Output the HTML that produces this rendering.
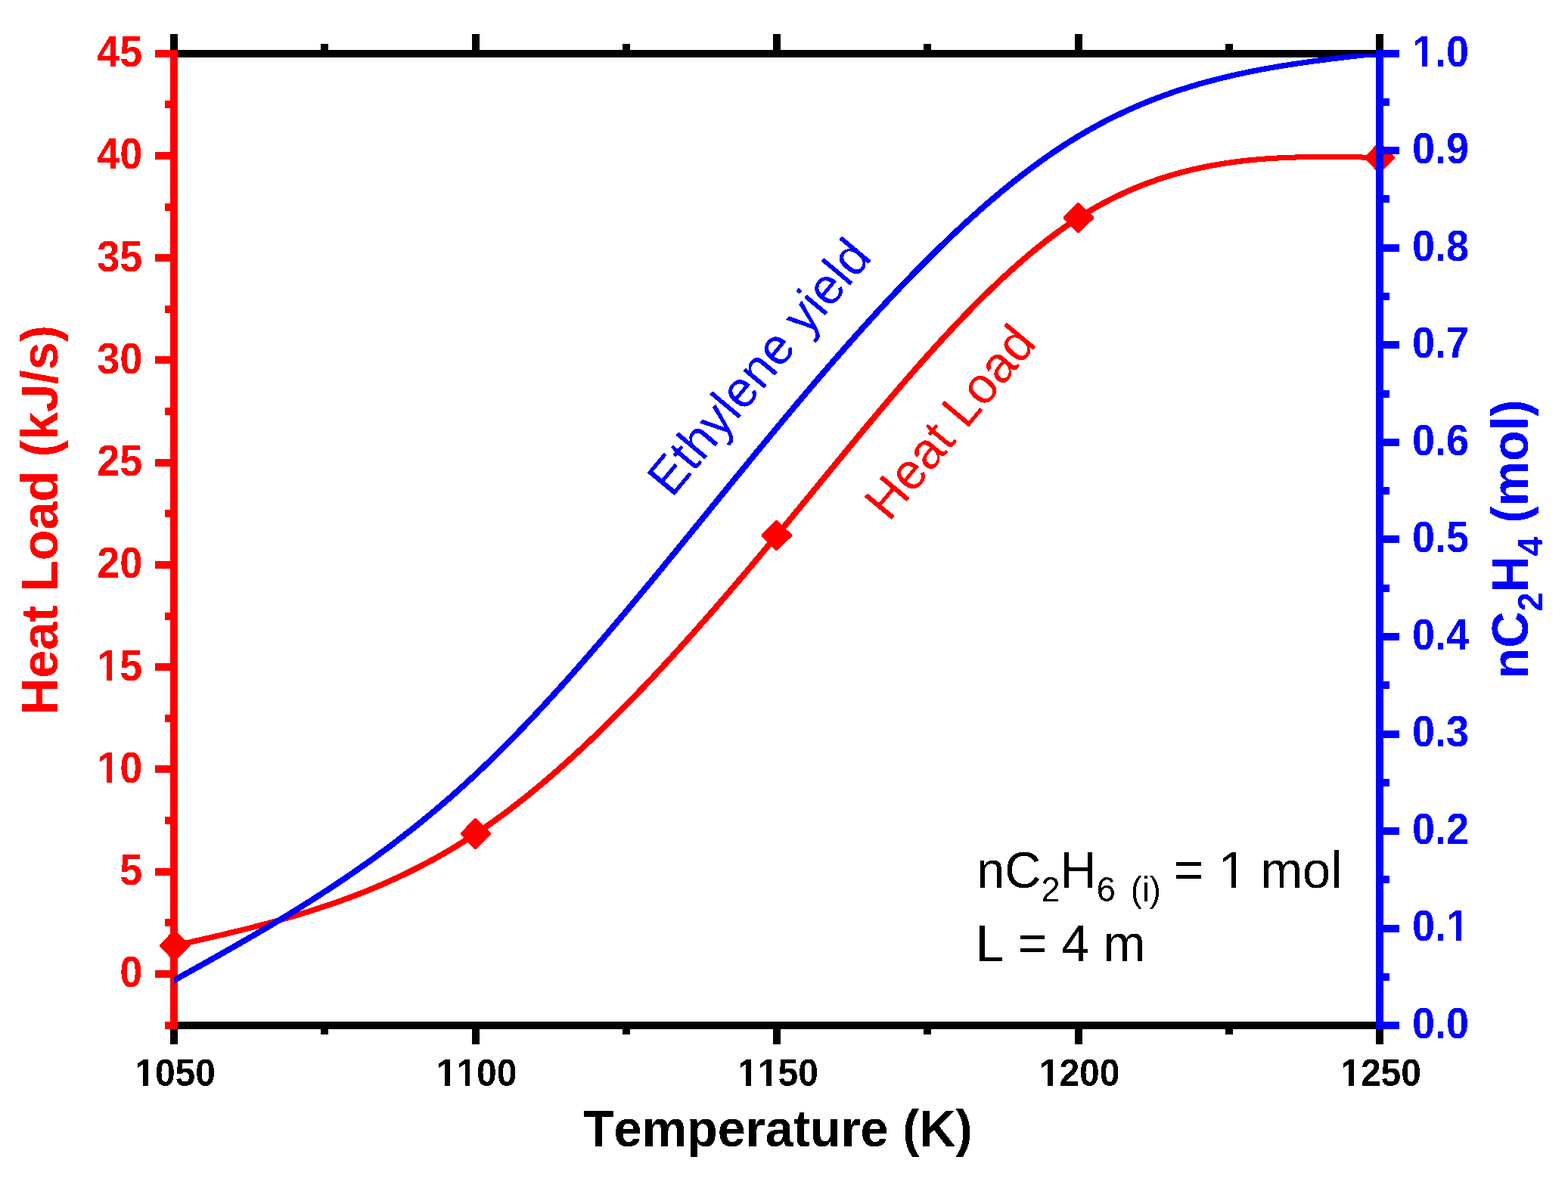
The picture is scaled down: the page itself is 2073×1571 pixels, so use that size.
<!DOCTYPE html>
<html lang="en">
<head>
<meta charset="utf-8">
<title>Heat load and ethylene yield vs temperature</title>
<style>
html,body{margin:0;padding:0;background:#fff;}
body{width:2073px;height:1571px;overflow:hidden;}
svg{display:block;}
text{font-family:"Liberation Sans",sans-serif;font-kerning:none;white-space:pre;}
</style>
</head>
<body>
<svg width="2073" height="1571" viewBox="0 0 2073 1571">
<rect width="2073" height="1571" fill="#ffffff"/>
<defs>
<filter id="na" x="-10%" y="-10%" width="120%" height="120%" color-interpolation-filters="sRGB"><feComponentTransfer><feFuncA type="discrete" tableValues="0 1"/></feComponentTransfer></filter>
<clipPath id="fr"><rect x="230.0" y="71.0" width="1594.0" height="1285.0"/></clipPath>
</defs>
<g id="axes-layer1" shape-rendering="crispEdges">
<rect x="225" y="66" width="1604" height="10" fill="#000000"/>
<rect x="225" y="1351" width="1604" height="10" fill="#000000"/>
<rect x="225" y="45" width="10" height="21" fill="#000000"/>
<rect x="225" y="1361" width="10" height="20" fill="#000000"/>
<rect x="424" y="58" width="10" height="8" fill="#000000"/>
<rect x="424" y="1361" width="10" height="7" fill="#000000"/>
<rect x="624" y="45" width="10" height="21" fill="#000000"/>
<rect x="624" y="1361" width="10" height="20" fill="#000000"/>
<rect x="823" y="58" width="10" height="8" fill="#000000"/>
<rect x="823" y="1361" width="10" height="7" fill="#000000"/>
<rect x="1022" y="45" width="10" height="21" fill="#000000"/>
<rect x="1022" y="1361" width="10" height="20" fill="#000000"/>
<rect x="1221" y="58" width="10" height="8" fill="#000000"/>
<rect x="1221" y="1361" width="10" height="7" fill="#000000"/>
<rect x="1421" y="45" width="10" height="21" fill="#000000"/>
<rect x="1421" y="1361" width="10" height="20" fill="#000000"/>
<rect x="1620" y="58" width="10" height="8" fill="#000000"/>
<rect x="1620" y="1361" width="10" height="7" fill="#000000"/>
<rect x="1819" y="45" width="10" height="21" fill="#000000"/>
<rect x="1819" y="1361" width="10" height="20" fill="#000000"/>
<rect x="225" y="66" width="10" height="1295" fill="#ff0000"/>
<rect x="205" y="66" width="20" height="10" fill="#ff0000"/>
<rect x="218" y="133" width="7" height="10" fill="#ff0000"/>
<rect x="205" y="201" width="20" height="10" fill="#ff0000"/>
<rect x="218" y="269" width="7" height="10" fill="#ff0000"/>
<rect x="205" y="336" width="20" height="10" fill="#ff0000"/>
<rect x="218" y="404" width="7" height="10" fill="#ff0000"/>
<rect x="205" y="471" width="20" height="10" fill="#ff0000"/>
<rect x="218" y="539" width="7" height="10" fill="#ff0000"/>
<rect x="205" y="607" width="20" height="10" fill="#ff0000"/>
<rect x="218" y="674" width="7" height="10" fill="#ff0000"/>
<rect x="205" y="742" width="20" height="10" fill="#ff0000"/>
<rect x="218" y="810" width="7" height="10" fill="#ff0000"/>
<rect x="205" y="877" width="20" height="10" fill="#ff0000"/>
<rect x="218" y="945" width="7" height="10" fill="#ff0000"/>
<rect x="205" y="1012" width="20" height="10" fill="#ff0000"/>
<rect x="218" y="1080" width="7" height="10" fill="#ff0000"/>
<rect x="205" y="1148" width="20" height="10" fill="#ff0000"/>
<rect x="218" y="1215" width="7" height="10" fill="#ff0000"/>
<rect x="205" y="1283" width="20" height="10" fill="#ff0000"/>
<rect x="218" y="1351" width="7" height="10" fill="#ff0000"/>
</g>
<g id="heat-load" shape-rendering="crispEdges">
<path d="M228.82,1254.80 L232.02,1254.08 L235.23,1253.35 L238.43,1252.63 L241.64,1251.91 L244.84,1251.18 L248.05,1250.46 L251.25,1249.73 L254.46,1249.01 L257.66,1248.28 L260.87,1247.55 L264.08,1246.82 L267.28,1246.08 L270.49,1245.35 L273.70,1244.61 L276.90,1243.87 L280.11,1243.13 L283.32,1242.39 L286.53,1241.64 L289.73,1240.89 L292.94,1240.13 L296.15,1239.37 L299.36,1238.61 L302.57,1237.85 L305.78,1237.08 L308.99,1236.31 L312.20,1235.53 L315.41,1234.74 L318.62,1233.96 L321.83,1233.17 L325.04,1232.37 L328.25,1231.57 L331.46,1230.76 L334.67,1229.94 L337.88,1229.12 L341.09,1228.30 L344.30,1227.47 L347.51,1226.63 L350.73,1225.78 L353.94,1224.93 L357.15,1224.07 L360.36,1223.21 L363.58,1222.33 L366.79,1221.45 L370.00,1220.56 L373.22,1219.67 L376.43,1218.76 L379.64,1217.85 L382.86,1216.93 L386.07,1216.00 L389.28,1215.06 L392.50,1214.11 L395.71,1213.16 L398.93,1212.19 L402.14,1211.22 L405.36,1210.23 L408.57,1209.24 L411.79,1208.23 L415.00,1207.21 L418.22,1206.19 L421.44,1205.15 L424.65,1204.10 L427.87,1203.05 L431.09,1201.98 L434.30,1200.89 L437.52,1199.80 L440.74,1198.70 L443.95,1197.58 L447.17,1196.45 L450.39,1195.31 L453.61,1194.16 L456.82,1192.99 L460.04,1191.81 L463.26,1190.62 L466.48,1189.42 L469.70,1188.20 L472.92,1186.97 L476.13,1185.72 L479.35,1184.46 L482.57,1183.19 L485.79,1181.90 L489.01,1180.59 L492.23,1179.28 L495.45,1177.94 L498.67,1176.60 L501.89,1175.23 L505.11,1173.86 L508.33,1172.46 L511.55,1171.05 L514.77,1169.63 L517.99,1168.18 L521.21,1166.73 L524.43,1165.25 L527.65,1163.76 L530.87,1162.25 L534.09,1160.73 L537.31,1159.18 L540.54,1157.62 L543.76,1156.04 L546.98,1154.45 L550.20,1152.83 L553.42,1151.20 L556.64,1149.55 L559.86,1147.88 L563.08,1146.20 L566.31,1144.49 L569.53,1142.76 L572.75,1141.02 L575.97,1139.25 L579.19,1137.47 L582.41,1135.67 L585.64,1133.84 L588.86,1132.00 L592.08,1130.13 L595.30,1128.25 L598.52,1126.34 L601.74,1124.41 L604.97,1122.47 L608.19,1120.50 L611.41,1118.51 L614.63,1116.49 L617.85,1114.46 L621.08,1112.40 L624.30,1110.32 L627.52,1108.22 L630.74,1106.10 L633.96,1103.95 L637.18,1101.78 L640.40,1099.59 L643.63,1097.38 L646.85,1095.14 L650.07,1092.89 L653.29,1090.61 L656.51,1088.31 L659.72,1085.98 L662.94,1083.64 L666.16,1081.27 L669.38,1078.89 L672.60,1076.48 L675.82,1074.05 L679.04,1071.60 L682.25,1069.13 L685.47,1066.64 L688.69,1064.13 L691.91,1061.60 L695.12,1059.05 L698.34,1056.48 L701.56,1053.90 L704.77,1051.29 L707.99,1048.66 L711.20,1046.01 L714.42,1043.34 L717.64,1040.66 L720.85,1037.95 L724.07,1035.23 L727.28,1032.49 L730.50,1029.73 L733.71,1026.95 L736.92,1024.15 L740.14,1021.34 L743.35,1018.50 L746.57,1015.65 L749.78,1012.79 L752.99,1009.90 L756.21,1007.00 L759.42,1004.08 L762.63,1001.14 L765.85,998.19 L769.06,995.22 L772.27,992.23 L775.48,989.23 L778.70,986.21 L781.91,983.17 L785.12,980.12 L788.33,977.05 L791.55,973.97 L794.76,970.87 L797.97,967.76 L801.18,964.63 L804.39,961.48 L807.60,958.32 L810.81,955.14 L814.02,951.95 L817.24,948.75 L820.45,945.53 L823.66,942.30 L826.87,939.05 L830.08,935.79 L833.29,932.51 L836.50,929.22 L839.71,925.92 L842.92,922.60 L846.13,919.27 L849.34,915.93 L852.55,912.57 L855.76,909.20 L858.97,905.82 L862.18,902.43 L865.39,899.02 L868.60,895.60 L871.80,892.17 L875.01,888.72 L878.22,885.27 L881.43,881.80 L884.64,878.32 L887.85,874.83 L891.06,871.33 L894.27,867.81 L897.48,864.29 L900.68,860.75 L903.89,857.20 L907.10,853.65 L910.31,850.08 L913.52,846.50 L916.73,842.91 L919.93,839.31 L923.14,835.70 L926.35,832.08 L929.56,828.45 L932.76,824.81 L935.97,821.17 L939.18,817.51 L942.39,813.84 L945.59,810.17 L948.80,806.48 L952.01,802.79 L955.22,799.09 L958.42,795.38 L961.63,791.66 L964.84,787.93 L968.05,784.20 L971.25,780.45 L974.46,776.70 L977.67,772.94 L980.87,769.18 L984.08,765.40 L987.29,761.62 L990.49,757.83 L993.70,754.04 L996.91,750.24 L1000.11,746.43 L1003.32,742.62 L1006.53,738.79 L1009.73,734.97 L1012.94,731.13 L1016.15,727.29 L1019.35,723.45 L1022.56,719.60 L1025.76,715.74 L1028.97,711.88 L1032.18,708.01 L1035.38,704.14 L1038.59,700.26 L1041.79,696.38 L1045.00,692.49 L1048.20,688.60 L1051.41,684.71 L1054.62,680.82 L1057.82,676.92 L1061.03,673.02 L1064.23,669.11 L1067.44,665.21 L1070.64,661.30 L1073.84,657.40 L1077.05,653.49 L1080.25,649.58 L1083.46,645.67 L1086.66,641.76 L1089.87,637.85 L1093.07,633.95 L1096.28,630.04 L1099.48,626.13 L1102.68,622.23 L1105.89,618.33 L1109.09,614.43 L1112.29,610.54 L1115.50,606.64 L1118.70,602.75 L1121.90,598.87 L1125.11,594.98 L1128.31,591.10 L1131.51,587.23 L1134.72,583.36 L1137.92,579.50 L1141.12,575.64 L1144.33,571.79 L1147.53,567.94 L1150.73,564.10 L1153.93,560.27 L1157.13,556.45 L1160.34,552.63 L1163.54,548.82 L1166.74,545.01 L1169.94,541.22 L1173.14,537.44 L1176.35,533.66 L1179.55,529.89 L1182.75,526.14 L1185.95,522.39 L1189.15,518.65 L1192.35,514.93 L1195.55,511.21 L1198.75,507.51 L1201.95,503.81 L1205.15,500.13 L1208.35,496.46 L1211.55,492.81 L1214.75,489.17 L1217.95,485.54 L1221.15,481.92 L1224.35,478.32 L1227.55,474.73 L1230.75,471.16 L1233.95,467.60 L1237.15,464.05 L1240.35,460.52 L1243.55,457.01 L1246.74,453.51 L1249.94,450.03 L1253.14,446.57 L1256.34,443.12 L1259.54,439.69 L1262.73,436.28 L1265.93,432.89 L1269.13,429.51 L1272.33,426.16 L1275.52,422.82 L1278.72,419.50 L1281.91,416.20 L1285.11,412.92 L1288.31,409.66 L1291.50,406.42 L1294.70,403.20 L1297.89,400.01 L1301.09,396.83 L1304.28,393.68 L1307.48,390.55 L1310.67,387.44 L1313.86,384.35 L1317.06,381.29 L1320.25,378.25 L1323.44,375.23 L1326.64,372.24 L1329.83,369.27 L1333.02,366.33 L1336.21,363.41 L1339.40,360.52 L1342.59,357.65 L1345.79,354.81 L1348.98,351.99 L1352.17,349.20 L1355.35,346.44 L1358.54,343.71 L1361.73,341.00 L1364.92,338.32 L1368.11,335.67 L1371.30,333.04 L1374.48,330.45 L1377.67,327.88 L1380.86,325.35 L1384.04,322.84 L1387.23,320.37 L1390.41,317.92 L1393.60,315.50 L1396.78,313.12 L1399.96,310.77 L1403.14,308.44 L1406.33,306.15 L1409.51,303.90 L1412.69,301.67 L1415.87,299.48 L1419.05,297.32 L1422.23,295.19 L1425.41,293.10 L1428.58,291.04 L1431.76,289.02 L1434.94,287.03 L1438.12,285.07 L1441.29,283.14 L1444.47,281.25 L1447.65,279.39 L1450.82,277.57 L1454.00,275.77 L1457.17,274.01 L1460.35,272.28 L1463.53,270.58 L1466.70,268.91 L1469.88,267.27 L1473.06,265.66 L1476.23,264.08 L1479.41,262.53 L1482.58,261.01 L1485.76,259.52 L1488.93,258.06 L1492.11,256.63 L1495.29,255.23 L1498.46,253.85 L1501.64,252.50 L1504.81,251.18 L1507.99,249.89 L1511.17,248.62 L1514.34,247.39 L1517.52,246.17 L1520.70,244.99 L1523.87,243.83 L1527.05,242.69 L1530.23,241.58 L1533.40,240.50 L1536.58,239.44 L1539.76,238.40 L1542.94,237.39 L1546.11,236.41 L1549.29,235.44 L1552.47,234.50 L1555.65,233.59 L1558.83,232.70 L1562.01,231.83 L1565.19,230.98 L1568.36,230.15 L1571.54,229.35 L1574.72,228.57 L1577.90,227.81 L1581.08,227.07 L1584.27,226.35 L1587.45,225.65 L1590.63,224.97 L1593.81,224.31 L1596.99,223.67 L1600.17,223.05 L1603.36,222.46 L1606.54,221.87 L1609.72,221.31 L1612.91,220.77 L1616.09,220.24 L1619.27,219.74 L1622.46,219.25 L1625.64,218.77 L1628.83,218.32 L1632.01,217.88 L1635.20,217.46 L1638.38,217.05 L1641.57,216.66 L1644.76,216.28 L1647.94,215.93 L1651.13,215.58 L1654.32,215.25 L1657.51,214.94 L1660.69,214.64 L1663.88,214.35 L1667.07,214.08 L1670.26,213.82 L1673.45,213.58 L1676.64,213.34 L1679.83,213.12 L1683.02,212.92 L1686.21,212.72 L1689.40,212.54 L1692.60,212.37 L1695.79,212.21 L1698.98,212.06 L1702.17,211.92 L1705.36,211.79 L1708.56,211.67 L1711.75,211.57 L1714.95,211.47 L1718.14,211.38 L1721.33,211.30 L1724.53,211.23 L1727.72,211.17 L1730.92,211.12 L1734.11,211.07 L1737.31,211.03 L1740.51,211.00 L1743.70,210.98 L1746.90,210.96 L1750.10,210.96 L1753.30,210.96 L1756.49,210.96 L1759.69,210.98 L1762.89,210.99 L1766.09,211.02 L1769.29,211.05 L1772.49,211.08 L1775.69,211.12 L1778.89,211.16 L1782.09,211.20 L1785.29,211.25 L1788.49,211.31 L1791.69,211.36 L1794.89,211.42 L1798.09,211.48 L1801.30,211.54 L1804.50,211.61 L1807.70,211.67 L1810.90,211.74 L1814.11,211.81 L1817.31,211.88 L1820.51,211.95 L1823.72,212.02 L1826.92,212.09 L1827.08,205.04 L1823.87,204.97 L1820.67,204.90 L1817.46,204.84 L1814.26,204.77 L1811.05,204.70 L1807.85,204.63 L1804.64,204.57 L1801.43,204.50 L1798.23,204.44 L1795.02,204.38 L1791.81,204.33 L1788.61,204.27 L1785.40,204.22 L1782.19,204.18 L1778.98,204.13 L1775.77,204.09 L1772.56,204.06 L1769.35,204.03 L1766.14,204.00 L1762.93,203.98 L1759.72,203.97 L1756.51,203.96 L1753.30,203.95 L1750.09,203.95 L1746.88,203.96 L1743.67,203.97 L1740.45,203.99 L1737.24,204.01 L1734.03,204.05 L1730.82,204.09 L1727.60,204.14 L1724.39,204.19 L1721.18,204.26 L1717.96,204.33 L1714.75,204.41 L1711.53,204.51 L1708.32,204.61 L1705.10,204.72 L1701.88,204.84 L1698.67,204.98 L1695.45,205.12 L1692.23,205.27 L1689.02,205.44 L1685.80,205.62 L1682.58,205.81 L1679.36,206.01 L1676.14,206.22 L1672.93,206.45 L1669.71,206.69 L1666.49,206.94 L1663.27,207.21 L1660.05,207.49 L1656.83,207.78 L1653.61,208.09 L1650.38,208.41 L1647.16,208.75 L1643.94,209.11 L1640.72,209.48 L1637.50,209.86 L1634.27,210.26 L1631.05,210.68 L1627.83,211.11 L1624.60,211.56 L1621.38,212.03 L1618.15,212.52 L1614.93,213.02 L1611.70,213.54 L1608.48,214.08 L1605.25,214.64 L1602.03,215.22 L1598.80,215.82 L1595.57,216.43 L1592.35,217.07 L1589.12,217.73 L1585.89,218.40 L1582.66,219.10 L1579.44,219.82 L1576.21,220.56 L1572.98,221.32 L1569.75,222.10 L1566.52,222.90 L1563.29,223.73 L1560.06,224.58 L1556.83,225.45 L1553.60,226.35 L1550.37,227.27 L1547.14,228.21 L1543.91,229.18 L1540.68,230.17 L1537.45,231.18 L1534.22,232.22 L1530.99,233.29 L1527.75,234.38 L1524.52,235.50 L1521.29,236.64 L1518.06,237.81 L1514.83,239.00 L1511.59,240.23 L1508.36,241.48 L1505.13,242.75 L1501.90,244.06 L1498.66,245.39 L1495.43,246.75 L1492.20,248.14 L1488.96,249.56 L1485.73,251.00 L1482.50,252.48 L1479.27,253.99 L1476.03,255.52 L1472.80,257.09 L1469.57,258.68 L1466.33,260.31 L1463.10,261.97 L1459.87,263.66 L1456.63,265.38 L1453.40,267.13 L1450.17,268.92 L1446.94,270.73 L1443.71,272.58 L1440.47,274.47 L1437.24,276.38 L1434.01,278.33 L1430.78,280.31 L1427.55,282.33 L1424.31,284.38 L1421.08,286.47 L1417.85,288.59 L1414.62,290.74 L1411.39,292.93 L1408.17,295.15 L1404.94,297.40 L1401.71,299.69 L1398.48,302.00 L1395.26,304.35 L1392.03,306.73 L1388.81,309.14 L1385.58,311.59 L1382.36,314.06 L1379.13,316.56 L1375.91,319.09 L1372.69,321.66 L1369.46,324.25 L1366.24,326.87 L1363.02,329.52 L1359.80,332.19 L1356.58,334.90 L1353.36,337.63 L1350.14,340.39 L1346.92,343.17 L1343.70,345.99 L1340.48,348.83 L1337.27,351.69 L1334.05,354.58 L1330.83,357.50 L1327.61,360.44 L1324.40,363.40 L1321.18,366.39 L1317.96,369.41 L1314.75,372.44 L1311.53,375.50 L1308.32,378.59 L1305.10,381.70 L1301.89,384.82 L1298.67,387.98 L1295.46,391.15 L1292.24,394.34 L1289.03,397.56 L1285.82,400.79 L1282.60,404.05 L1279.39,407.33 L1276.18,410.63 L1272.96,413.94 L1269.75,417.28 L1266.54,420.63 L1263.33,424.00 L1260.12,427.40 L1256.91,430.81 L1253.69,434.23 L1250.48,437.68 L1247.27,441.14 L1244.06,444.62 L1240.85,448.11 L1237.64,451.62 L1234.43,455.15 L1231.22,458.69 L1228.01,462.25 L1224.80,465.82 L1221.59,469.40 L1218.38,473.00 L1215.17,476.62 L1211.96,480.25 L1208.75,483.89 L1205.54,487.54 L1202.34,491.21 L1199.13,494.89 L1195.92,498.58 L1192.71,502.28 L1189.50,505.99 L1186.29,509.72 L1183.09,513.45 L1179.88,517.20 L1176.67,520.95 L1173.46,524.72 L1170.26,528.49 L1167.05,532.27 L1163.84,536.07 L1160.63,539.87 L1157.43,543.68 L1154.22,547.49 L1151.01,551.32 L1147.81,555.15 L1144.60,558.99 L1141.39,562.83 L1138.19,566.68 L1134.98,570.54 L1131.78,574.40 L1128.57,578.27 L1125.36,582.14 L1122.16,586.02 L1118.95,589.90 L1115.75,593.79 L1112.54,597.68 L1109.34,601.57 L1106.13,605.47 L1102.93,609.36 L1099.72,613.26 L1096.52,617.17 L1093.31,621.07 L1090.11,624.98 L1086.90,628.89 L1083.70,632.79 L1080.49,636.70 L1077.29,640.61 L1074.08,644.52 L1070.88,648.43 L1067.67,652.34 L1064.47,656.24 L1061.27,660.15 L1058.06,664.05 L1054.86,667.95 L1051.65,671.85 L1048.45,675.75 L1045.25,679.64 L1042.04,683.53 L1038.84,687.42 L1035.64,691.30 L1032.43,695.18 L1029.23,699.05 L1026.03,702.92 L1022.83,706.78 L1019.62,710.64 L1016.42,714.49 L1013.22,718.34 L1010.02,722.18 L1006.81,726.01 L1003.61,729.84 L1000.41,733.66 L997.21,737.48 L994.00,741.29 L990.80,745.09 L987.60,748.89 L984.40,752.68 L981.19,756.46 L977.99,760.23 L974.79,764.00 L971.59,767.76 L968.39,771.51 L965.18,775.26 L961.98,778.99 L958.78,782.72 L955.58,786.44 L952.38,790.16 L949.18,793.86 L945.97,797.55 L942.77,801.24 L939.57,804.92 L936.37,808.58 L933.17,812.24 L929.97,815.89 L926.77,819.53 L923.57,823.16 L920.36,826.78 L917.16,830.40 L913.96,834.00 L910.76,837.59 L907.56,841.17 L904.36,844.74 L901.16,848.30 L897.96,851.84 L894.76,855.38 L891.56,858.91 L888.36,862.43 L885.16,865.93 L881.96,869.42 L878.76,872.90 L875.56,876.37 L872.36,879.83 L869.16,883.28 L865.96,886.71 L862.76,890.13 L859.56,893.54 L856.36,896.94 L853.16,900.32 L849.96,903.69 L846.76,907.05 L843.56,910.40 L840.36,913.73 L837.17,917.05 L833.97,920.35 L830.77,923.64 L827.57,926.92 L824.37,930.18 L821.17,933.43 L817.97,936.67 L814.78,939.89 L811.58,943.09 L808.38,946.29 L805.18,949.46 L801.98,952.62 L798.79,955.77 L795.59,958.90 L792.39,962.02 L789.19,965.12 L786.00,968.21 L782.80,971.28 L779.60,974.33 L776.41,977.37 L773.21,980.39 L770.01,983.39 L766.82,986.38 L763.62,989.35 L760.43,992.31 L757.23,995.25 L754.03,998.17 L750.84,1001.07 L747.64,1003.96 L744.45,1006.83 L741.25,1009.68 L738.06,1012.52 L734.86,1015.33 L731.67,1018.13 L728.47,1020.91 L725.28,1023.68 L722.09,1026.42 L718.89,1029.14 L715.70,1031.85 L712.51,1034.54 L709.31,1037.21 L706.12,1039.86 L702.93,1042.49 L699.73,1045.10 L696.54,1047.69 L693.35,1050.26 L690.16,1052.82 L686.96,1055.35 L683.77,1057.86 L680.58,1060.35 L677.39,1062.82 L674.20,1065.28 L671.01,1067.71 L667.82,1070.12 L664.63,1072.51 L661.44,1074.87 L658.25,1077.22 L655.06,1079.55 L651.87,1081.85 L648.68,1084.13 L645.49,1086.39 L642.30,1088.63 L639.11,1090.85 L635.92,1093.05 L632.74,1095.22 L629.55,1097.37 L626.36,1099.50 L623.17,1101.60 L619.99,1103.69 L616.80,1105.75 L613.61,1107.79 L610.43,1109.80 L607.24,1111.80 L604.05,1113.77 L600.86,1115.73 L597.68,1117.66 L594.49,1119.57 L591.30,1121.46 L588.12,1123.33 L584.93,1125.18 L581.74,1127.01 L578.56,1128.82 L575.37,1130.61 L572.18,1132.38 L568.99,1134.13 L565.81,1135.87 L562.62,1137.58 L559.43,1139.27 L556.24,1140.95 L553.06,1142.61 L549.87,1144.25 L546.68,1145.87 L543.49,1147.47 L540.31,1149.06 L537.12,1150.62 L533.93,1152.17 L530.74,1153.71 L527.56,1155.22 L524.37,1156.72 L521.18,1158.20 L517.99,1159.67 L514.80,1161.12 L511.61,1162.55 L508.43,1163.97 L505.24,1165.37 L502.05,1166.76 L498.86,1168.13 L495.67,1169.49 L492.48,1170.83 L489.29,1172.15 L486.10,1173.47 L482.91,1174.76 L479.72,1176.04 L476.53,1177.31 L473.34,1178.57 L470.15,1179.81 L466.96,1181.04 L463.77,1182.25 L460.58,1183.45 L457.39,1184.64 L454.20,1185.81 L451.01,1186.97 L447.82,1188.12 L444.63,1189.26 L441.44,1190.39 L438.25,1191.50 L435.05,1192.60 L431.86,1193.69 L428.67,1194.77 L425.48,1195.83 L422.29,1196.89 L419.09,1197.94 L415.90,1198.97 L412.71,1199.99 L409.51,1201.01 L406.32,1202.01 L403.13,1203.00 L399.93,1203.99 L396.74,1204.96 L393.55,1205.93 L390.35,1206.88 L387.16,1207.83 L383.96,1208.76 L380.77,1209.69 L377.57,1210.61 L374.38,1211.52 L371.18,1212.43 L367.99,1213.32 L364.79,1214.21 L361.59,1215.09 L358.40,1215.96 L355.20,1216.83 L352.01,1217.69 L348.81,1218.54 L345.61,1219.38 L342.41,1220.22 L339.22,1221.05 L336.02,1221.88 L332.82,1222.70 L329.62,1223.51 L326.43,1224.32 L323.23,1225.12 L320.03,1225.92 L316.83,1226.71 L313.63,1227.50 L310.43,1228.28 L307.23,1229.06 L304.03,1229.83 L300.83,1230.60 L297.63,1231.37 L294.43,1232.13 L291.23,1232.88 L288.03,1233.64 L284.83,1234.39 L281.63,1235.14 L278.43,1235.88 L275.23,1236.63 L272.03,1237.36 L268.82,1238.10 L265.62,1238.84 L262.42,1239.57 L259.22,1240.30 L256.02,1241.03 L252.81,1241.76 L249.61,1242.49 L246.41,1243.21 L243.20,1243.94 L240.00,1244.66 L236.80,1245.38 L233.59,1246.11 L230.39,1246.83 L227.18,1247.55Z" fill="#ff0000" clip-path="url(#fr)"/>
<path d="M211.20,1249.20 L229.20,1230.60 H231.80 L250.80,1249.20 V1251.80 L231.80,1270.40 H229.20 L211.20,1251.80Z" fill="#ff0000"/>
<path d="M609.20,1101.20 L627.20,1082.20 H629.80 L648.80,1101.20 V1103.80 L629.80,1122.80 H627.20 L609.20,1103.80Z" fill="#ff0000"/>
<path d="M1007.20,706.70 L1025.20,688.10 H1027.80 L1046.80,706.70 V709.30 L1027.80,727.90 H1025.20 L1007.20,709.30Z" fill="#ff0000"/>
<path d="M1406.20,286.70 L1424.20,268.10 H1426.80 L1445.80,286.70 V289.30 L1426.80,307.90 H1424.20 L1406.20,289.30Z" fill="#ff0000"/>
<path d="M1804.20,207.20 L1822.20,188.60 H1824.80 L1843.80,207.20 V209.80 L1824.80,228.40 H1822.20 L1804.20,209.80Z" fill="#ff0000"/>
</g>
<g id="axes-layer2" shape-rendering="crispEdges">
<rect x="1819" y="66" width="10" height="1295" fill="#0000ff"/>
<rect x="1829" y="66" width="21" height="10" fill="#0000ff"/>
<rect x="1829" y="130" width="8" height="10" fill="#0000ff"/>
<rect x="1829" y="194" width="21" height="10" fill="#0000ff"/>
<rect x="1829" y="258" width="8" height="10" fill="#0000ff"/>
<rect x="1829" y="323" width="21" height="10" fill="#0000ff"/>
<rect x="1829" y="387" width="8" height="10" fill="#0000ff"/>
<rect x="1829" y="451" width="21" height="10" fill="#0000ff"/>
<rect x="1829" y="516" width="8" height="10" fill="#0000ff"/>
<rect x="1829" y="580" width="21" height="10" fill="#0000ff"/>
<rect x="1829" y="644" width="8" height="10" fill="#0000ff"/>
<rect x="1829" y="708" width="21" height="10" fill="#0000ff"/>
<rect x="1829" y="773" width="8" height="10" fill="#0000ff"/>
<rect x="1829" y="837" width="21" height="10" fill="#0000ff"/>
<rect x="1829" y="901" width="8" height="10" fill="#0000ff"/>
<rect x="1829" y="966" width="21" height="10" fill="#0000ff"/>
<rect x="1829" y="1030" width="8" height="10" fill="#0000ff"/>
<rect x="1829" y="1094" width="21" height="10" fill="#0000ff"/>
<rect x="1829" y="1158" width="8" height="10" fill="#0000ff"/>
<rect x="1829" y="1223" width="21" height="10" fill="#0000ff"/>
<rect x="1829" y="1287" width="8" height="10" fill="#0000ff"/>
<rect x="1829" y="1351" width="21" height="10" fill="#0000ff"/>
</g>
<path id="ethylene-yield" d="M228.91,1301.50 L232.11,1299.71 L235.32,1297.93 L238.53,1296.15 L241.73,1294.36 L244.94,1292.58 L248.15,1290.79 L251.36,1289.00 L254.56,1287.22 L257.77,1285.43 L260.98,1283.64 L264.19,1281.85 L267.39,1280.05 L270.60,1278.26 L273.81,1276.46 L277.02,1274.66 L280.23,1272.86 L283.44,1271.06 L286.64,1269.25 L289.85,1267.44 L293.06,1265.63 L296.27,1263.81 L299.48,1261.99 L302.69,1260.17 L305.90,1258.35 L309.11,1256.52 L312.32,1254.69 L315.53,1252.85 L318.74,1251.01 L321.95,1249.16 L325.16,1247.31 L328.37,1245.46 L331.58,1243.60 L334.79,1241.73 L338.00,1239.87 L341.21,1237.99 L344.42,1236.11 L347.63,1234.23 L350.84,1232.33 L354.06,1230.44 L357.27,1228.53 L360.48,1226.63 L363.69,1224.71 L366.90,1222.79 L370.11,1220.86 L373.33,1218.92 L376.54,1216.98 L379.75,1215.03 L382.96,1213.07 L386.18,1211.11 L389.39,1209.14 L392.60,1207.16 L395.81,1205.17 L399.03,1203.17 L402.24,1201.17 L405.45,1199.16 L408.67,1197.13 L411.88,1195.10 L415.09,1193.07 L418.31,1191.02 L421.52,1188.96 L424.73,1186.89 L427.95,1184.82 L431.16,1182.73 L434.38,1180.64 L437.59,1178.53 L440.80,1176.42 L444.02,1174.29 L447.23,1172.15 L450.45,1170.01 L453.66,1167.85 L456.88,1165.68 L460.09,1163.50 L463.31,1161.31 L466.52,1159.11 L469.74,1156.89 L472.95,1154.67 L476.17,1152.43 L479.38,1150.18 L482.60,1147.92 L485.81,1145.64 L489.03,1143.36 L492.24,1141.06 L495.46,1138.74 L498.67,1136.42 L501.89,1134.08 L505.10,1131.73 L508.32,1129.36 L511.54,1126.99 L514.75,1124.59 L517.97,1122.19 L521.18,1119.77 L524.40,1117.33 L527.61,1114.88 L530.83,1112.42 L534.05,1109.94 L537.26,1107.45 L540.48,1104.94 L543.69,1102.42 L546.91,1099.88 L550.13,1097.32 L553.34,1094.75 L556.56,1092.17 L559.77,1089.57 L562.99,1086.95 L566.21,1084.31 L569.42,1081.66 L572.64,1079.00 L575.86,1076.31 L579.07,1073.61 L582.29,1070.89 L585.50,1068.16 L588.72,1065.41 L591.94,1062.64 L595.15,1059.85 L598.37,1057.04 L601.59,1054.22 L604.80,1051.38 L608.02,1048.52 L611.23,1045.64 L614.45,1042.74 L617.67,1039.83 L620.88,1036.89 L624.10,1033.94 L627.31,1030.97 L630.53,1027.98 L633.75,1024.96 L636.96,1021.93 L640.18,1018.88 L643.39,1015.81 L646.61,1012.73 L649.82,1009.62 L653.04,1006.49 L656.25,1003.35 L659.47,1000.19 L662.68,997.01 L665.90,993.82 L669.11,990.61 L672.32,987.38 L675.54,984.13 L678.75,980.87 L681.96,977.59 L685.18,974.29 L688.39,970.98 L691.60,967.65 L694.82,964.31 L698.03,960.95 L701.24,957.57 L704.45,954.18 L707.67,950.78 L710.88,947.36 L714.09,943.93 L717.30,940.48 L720.51,937.02 L723.73,933.55 L726.94,930.06 L730.15,926.55 L733.36,923.04 L736.57,919.51 L739.78,915.97 L742.99,912.42 L746.21,908.85 L749.42,905.27 L752.63,901.68 L755.84,898.08 L759.05,894.47 L762.26,890.84 L765.47,887.21 L768.68,883.56 L771.89,879.90 L775.10,876.23 L778.31,872.55 L781.52,868.86 L784.73,865.17 L787.94,861.46 L791.15,857.74 L794.36,854.01 L797.57,850.27 L800.78,846.53 L803.99,842.77 L807.19,839.01 L810.40,835.24 L813.61,831.46 L816.82,827.67 L820.03,823.88 L823.24,820.08 L826.45,816.27 L829.66,812.45 L832.87,808.62 L836.07,804.79 L839.28,800.96 L842.49,797.11 L845.70,793.26 L848.91,789.41 L852.12,785.54 L855.32,781.68 L858.53,777.81 L861.74,773.93 L864.95,770.05 L868.15,766.16 L871.36,762.27 L874.57,758.37 L877.78,754.47 L880.99,750.57 L884.19,746.66 L887.40,742.75 L890.61,738.83 L893.82,734.92 L897.02,731.00 L900.23,727.07 L903.44,723.15 L906.64,719.22 L909.85,715.29 L913.06,711.36 L916.26,707.43 L919.47,703.49 L922.68,699.56 L925.89,695.62 L929.09,691.68 L932.30,687.74 L935.50,683.80 L938.71,679.86 L941.92,675.92 L945.12,671.98 L948.33,668.05 L951.54,664.11 L954.74,660.17 L957.95,656.23 L961.16,652.30 L964.36,648.36 L967.57,644.43 L970.77,640.50 L973.98,636.57 L977.18,632.64 L980.39,628.72 L983.60,624.80 L986.80,620.88 L990.01,616.96 L993.21,613.05 L996.42,609.14 L999.62,605.24 L1002.83,601.33 L1006.03,597.44 L1009.24,593.54 L1012.44,589.65 L1015.65,585.77 L1018.85,581.89 L1022.06,578.01 L1025.26,574.14 L1028.47,570.28 L1031.67,566.42 L1034.88,562.57 L1038.08,558.72 L1041.29,554.88 L1044.49,551.05 L1047.70,547.22 L1050.90,543.40 L1054.10,539.58 L1057.31,535.77 L1060.51,531.97 L1063.72,528.18 L1066.92,524.39 L1070.12,520.62 L1073.33,516.84 L1076.53,513.08 L1079.74,509.33 L1082.94,505.58 L1086.14,501.84 L1089.35,498.11 L1092.55,494.39 L1095.75,490.68 L1098.96,486.97 L1102.16,483.28 L1105.36,479.59 L1108.57,475.92 L1111.77,472.25 L1114.97,468.59 L1118.18,464.95 L1121.38,461.31 L1124.58,457.69 L1127.79,454.07 L1130.99,450.46 L1134.19,446.87 L1137.39,443.29 L1140.60,439.71 L1143.80,436.15 L1147.00,432.60 L1150.20,429.06 L1153.40,425.54 L1156.61,422.02 L1159.81,418.52 L1163.01,415.03 L1166.21,411.55 L1169.41,408.08 L1172.62,404.63 L1175.82,401.19 L1179.02,397.76 L1182.22,394.34 L1185.42,390.94 L1188.62,387.55 L1191.82,384.18 L1195.02,380.82 L1198.22,377.47 L1201.43,374.14 L1204.63,370.82 L1207.83,367.52 L1211.03,364.23 L1214.23,360.95 L1217.43,357.69 L1220.63,354.45 L1223.83,351.22 L1227.03,348.00 L1230.23,344.80 L1233.43,341.62 L1236.62,338.45 L1239.82,335.30 L1243.02,332.16 L1246.22,329.04 L1249.42,325.94 L1252.62,322.85 L1255.82,319.78 L1259.02,316.73 L1262.21,313.70 L1265.41,310.68 L1268.61,307.68 L1271.81,304.69 L1275.01,301.73 L1278.20,298.78 L1281.40,295.85 L1284.60,292.94 L1287.79,290.04 L1290.99,287.17 L1294.19,284.31 L1297.38,281.47 L1300.58,278.65 L1303.78,275.85 L1306.97,273.07 L1310.17,270.31 L1313.36,267.57 L1316.56,264.85 L1319.75,262.15 L1322.95,259.47 L1326.14,256.81 L1329.34,254.17 L1332.53,251.55 L1335.72,248.95 L1338.92,246.37 L1342.11,243.81 L1345.30,241.27 L1348.50,238.76 L1351.69,236.26 L1354.88,233.79 L1358.07,231.34 L1361.27,228.91 L1364.46,226.51 L1367.65,224.12 L1370.84,221.76 L1374.03,219.42 L1377.22,217.10 L1380.41,214.81 L1383.60,212.54 L1386.79,210.29 L1389.98,208.07 L1393.17,205.87 L1396.36,203.69 L1399.55,201.54 L1402.74,199.41 L1405.92,197.30 L1409.11,195.22 L1412.30,193.17 L1415.49,191.13 L1418.67,189.13 L1421.86,187.15 L1425.04,185.19 L1428.23,183.26 L1431.42,181.35 L1434.60,179.47 L1437.79,177.61 L1440.97,175.78 L1444.16,173.97 L1447.34,172.19 L1450.53,170.43 L1453.71,168.69 L1456.90,166.98 L1460.08,165.29 L1463.27,163.62 L1466.45,161.98 L1469.64,160.36 L1472.82,158.76 L1476.01,157.18 L1479.19,155.63 L1482.38,154.09 L1485.57,152.58 L1488.75,151.09 L1491.94,149.62 L1495.12,148.18 L1498.31,146.75 L1501.49,145.35 L1504.68,143.96 L1507.87,142.60 L1511.05,141.25 L1514.24,139.93 L1517.42,138.62 L1520.61,137.33 L1523.80,136.07 L1526.98,134.82 L1530.17,133.59 L1533.36,132.38 L1536.54,131.19 L1539.73,130.02 L1542.92,128.86 L1546.10,127.72 L1549.29,126.60 L1552.48,125.50 L1555.67,124.41 L1558.86,123.34 L1562.04,122.29 L1565.23,121.26 L1568.42,120.24 L1571.61,119.24 L1574.80,118.25 L1577.99,117.28 L1581.18,116.32 L1584.37,115.39 L1587.56,114.46 L1590.74,113.55 L1593.93,112.66 L1597.12,111.78 L1600.32,110.91 L1603.51,110.06 L1606.70,109.22 L1609.89,108.40 L1613.08,107.59 L1616.27,106.79 L1619.46,106.01 L1622.65,105.24 L1625.84,104.48 L1629.04,103.74 L1632.23,103.00 L1635.42,102.28 L1638.62,101.57 L1641.81,100.88 L1645.00,100.19 L1648.19,99.52 L1651.39,98.86 L1654.58,98.21 L1657.78,97.56 L1660.97,96.93 L1664.17,96.32 L1667.36,95.71 L1670.56,95.11 L1673.75,94.52 L1676.95,93.94 L1680.14,93.37 L1683.34,92.80 L1686.53,92.25 L1689.73,91.71 L1692.93,91.17 L1696.12,90.65 L1699.32,90.13 L1702.52,89.62 L1705.72,89.11 L1708.91,88.62 L1712.11,88.13 L1715.31,87.65 L1718.51,87.17 L1721.71,86.71 L1724.91,86.25 L1728.11,85.79 L1731.31,85.34 L1734.51,84.90 L1737.71,84.47 L1740.91,84.04 L1744.11,83.61 L1747.31,83.19 L1750.51,82.77 L1753.71,82.36 L1756.91,81.96 L1760.11,81.55 L1763.31,81.16 L1766.52,80.76 L1769.72,80.37 L1772.92,79.99 L1776.12,79.60 L1779.33,79.22 L1782.53,78.85 L1785.73,78.47 L1788.94,78.10 L1792.14,77.73 L1795.35,77.36 L1798.55,76.99 L1801.76,76.63 L1804.96,76.27 L1808.17,75.91 L1811.37,75.55 L1814.58,75.19 L1817.78,74.83 L1820.99,74.47 L1824.19,74.11 L1827.40,73.75 L1826.60,66.58 L1823.39,66.94 L1820.19,67.29 L1816.98,67.65 L1813.77,68.01 L1810.57,68.37 L1807.36,68.73 L1804.15,69.09 L1800.94,69.45 L1797.73,69.82 L1794.53,70.18 L1791.32,70.55 L1788.11,70.92 L1784.90,71.29 L1781.69,71.66 L1778.48,72.04 L1775.27,72.42 L1772.06,72.80 L1768.85,73.19 L1765.64,73.58 L1762.43,73.97 L1759.22,74.36 L1756.01,74.77 L1752.80,75.17 L1749.58,75.58 L1746.37,75.99 L1743.16,76.41 L1739.95,76.84 L1736.73,77.27 L1733.52,77.70 L1730.31,78.14 L1727.10,78.59 L1723.88,79.04 L1720.67,79.50 L1717.45,79.96 L1714.24,80.44 L1711.03,80.92 L1707.81,81.40 L1704.60,81.90 L1701.38,82.40 L1698.16,82.91 L1694.95,83.42 L1691.73,83.95 L1688.52,84.48 L1685.30,85.02 L1682.08,85.58 L1678.87,86.14 L1675.65,86.70 L1672.43,87.28 L1669.22,87.87 L1666.00,88.47 L1662.78,89.08 L1659.56,89.70 L1656.34,90.32 L1653.12,90.96 L1649.91,91.61 L1646.69,92.28 L1643.47,92.95 L1640.25,93.63 L1637.03,94.33 L1633.81,95.04 L1630.59,95.76 L1627.37,96.49 L1624.15,97.23 L1620.93,97.99 L1617.71,98.76 L1614.48,99.54 L1611.26,100.34 L1608.04,101.15 L1604.82,101.98 L1601.60,102.81 L1598.37,103.67 L1595.15,104.53 L1591.93,105.41 L1588.71,106.31 L1585.48,107.22 L1582.26,108.15 L1579.04,109.09 L1575.81,110.05 L1572.59,111.02 L1569.36,112.01 L1566.14,113.02 L1562.92,114.04 L1559.69,115.08 L1556.47,116.13 L1553.24,117.21 L1550.02,118.30 L1546.79,119.40 L1543.57,120.53 L1540.34,121.67 L1537.12,122.83 L1533.89,124.01 L1530.66,125.21 L1527.44,126.43 L1524.21,127.66 L1520.99,128.92 L1517.76,130.19 L1514.53,131.49 L1511.31,132.80 L1508.08,134.14 L1504.85,135.49 L1501.63,136.86 L1498.40,138.26 L1495.17,139.67 L1491.94,141.11 L1488.72,142.57 L1485.49,144.05 L1482.26,145.55 L1479.03,147.07 L1475.81,148.62 L1472.58,150.18 L1469.35,151.77 L1466.12,153.39 L1462.90,155.02 L1459.67,156.68 L1456.44,158.36 L1453.21,160.07 L1449.99,161.80 L1446.76,163.55 L1443.53,165.32 L1440.30,167.13 L1437.08,168.95 L1433.85,170.80 L1430.62,172.68 L1427.39,174.58 L1424.17,176.50 L1420.94,178.45 L1417.71,180.43 L1414.49,182.43 L1411.26,184.46 L1408.03,186.51 L1404.81,188.58 L1401.58,190.68 L1398.36,192.81 L1395.13,194.96 L1391.91,197.13 L1388.68,199.33 L1385.46,201.55 L1382.24,203.79 L1379.01,206.06 L1375.79,208.35 L1372.57,210.66 L1369.35,212.99 L1366.13,215.35 L1362.90,217.73 L1359.68,220.14 L1356.46,222.56 L1353.24,225.01 L1350.02,227.48 L1346.80,229.97 L1343.58,232.48 L1340.36,235.02 L1337.14,237.57 L1333.92,240.15 L1330.70,242.75 L1327.48,245.37 L1324.26,248.00 L1321.04,250.66 L1317.83,253.34 L1314.61,256.04 L1311.39,258.76 L1308.17,261.50 L1304.96,264.26 L1301.74,267.04 L1298.52,269.83 L1295.30,272.65 L1292.09,275.49 L1288.87,278.34 L1285.65,281.21 L1282.44,284.11 L1279.22,287.02 L1276.01,289.94 L1272.79,292.89 L1269.58,295.85 L1266.36,298.84 L1263.15,301.84 L1259.93,304.85 L1256.72,307.89 L1253.50,310.94 L1250.29,314.01 L1247.07,317.09 L1243.86,320.19 L1240.64,323.31 L1237.43,326.44 L1234.22,329.59 L1231.00,332.76 L1227.79,335.94 L1224.58,339.14 L1221.36,342.35 L1218.15,345.58 L1214.94,348.82 L1211.72,352.08 L1208.51,355.35 L1205.30,358.64 L1202.09,361.94 L1198.87,365.26 L1195.66,368.59 L1192.45,371.94 L1189.24,375.30 L1186.02,378.67 L1182.81,382.06 L1179.60,385.46 L1176.39,388.87 L1173.18,392.30 L1169.97,395.73 L1166.76,399.19 L1163.54,402.65 L1160.33,406.13 L1157.12,409.62 L1153.91,413.12 L1150.70,416.63 L1147.49,420.16 L1144.28,423.69 L1141.07,427.24 L1137.86,430.80 L1134.65,434.37 L1131.44,437.95 L1128.23,441.55 L1125.02,445.15 L1121.81,448.77 L1118.60,452.39 L1115.39,456.03 L1112.18,459.67 L1108.97,463.32 L1105.76,466.99 L1102.55,470.66 L1099.34,474.35 L1096.13,478.04 L1092.92,481.74 L1089.71,485.45 L1086.50,489.17 L1083.29,492.90 L1080.08,496.64 L1076.87,500.39 L1073.66,504.14 L1070.45,507.90 L1067.24,511.67 L1064.04,515.45 L1060.83,519.23 L1057.62,523.02 L1054.41,526.82 L1051.20,530.63 L1047.99,534.44 L1044.78,538.26 L1041.57,542.09 L1038.37,545.92 L1035.16,549.76 L1031.95,553.61 L1028.74,557.46 L1025.53,561.32 L1022.33,565.18 L1019.12,569.05 L1015.91,572.92 L1012.70,576.80 L1009.49,580.69 L1006.29,584.58 L1003.08,588.47 L999.87,592.37 L996.66,596.27 L993.45,600.17 L990.25,604.08 L987.04,607.99 L983.83,611.91 L980.63,615.83 L977.42,619.75 L974.21,623.67 L971.00,627.60 L967.80,631.53 L964.59,635.46 L961.38,639.39 L958.18,643.32 L954.97,647.26 L951.76,651.19 L948.56,655.13 L945.35,659.07 L942.14,663.01 L938.94,666.95 L935.73,670.89 L932.52,674.83 L929.32,678.76 L926.11,682.70 L922.90,686.64 L919.70,690.58 L916.49,694.52 L913.29,698.45 L910.08,702.38 L906.87,706.32 L903.67,710.25 L900.46,714.17 L897.26,718.10 L894.05,722.02 L890.85,725.94 L887.64,729.86 L884.43,733.78 L881.23,737.69 L878.02,741.60 L874.82,745.50 L871.61,749.40 L868.41,753.30 L865.20,757.19 L862.00,761.08 L858.79,764.96 L855.59,768.84 L852.38,772.71 L849.18,776.58 L845.97,780.45 L842.77,784.30 L839.56,788.15 L836.36,792.00 L833.15,795.84 L829.95,799.67 L826.75,803.49 L823.54,807.31 L820.34,811.12 L817.13,814.93 L813.93,818.72 L810.73,822.51 L807.52,826.29 L804.32,830.07 L801.11,833.83 L797.91,837.59 L794.71,841.33 L791.50,845.07 L788.30,848.80 L785.10,852.52 L781.89,856.23 L778.69,859.93 L775.49,863.62 L772.28,867.30 L769.08,870.97 L765.88,874.63 L762.68,878.28 L759.47,881.92 L756.27,885.55 L753.07,889.16 L749.87,892.77 L746.66,896.36 L743.46,899.94 L740.26,903.51 L737.06,907.06 L733.86,910.60 L730.65,914.13 L727.45,917.65 L724.25,921.16 L721.05,924.65 L717.85,928.12 L714.65,931.59 L711.45,935.04 L708.25,938.47 L705.04,941.89 L701.84,945.30 L698.64,948.69 L695.44,952.06 L692.24,955.43 L689.04,958.77 L685.84,962.10 L682.64,965.41 L679.44,968.71 L676.24,971.99 L673.04,975.26 L669.84,978.51 L666.65,981.74 L663.45,984.95 L660.25,988.15 L657.05,991.33 L653.85,994.50 L650.65,997.64 L647.45,1000.77 L644.26,1003.87 L641.06,1006.96 L637.86,1010.04 L634.66,1013.09 L631.47,1016.12 L628.27,1019.13 L625.07,1022.13 L621.88,1025.10 L618.68,1028.06 L615.48,1031.00 L612.29,1033.91 L609.09,1036.81 L605.89,1039.69 L602.70,1042.56 L599.50,1045.40 L596.30,1048.22 L593.11,1051.03 L589.91,1053.82 L586.71,1056.59 L583.52,1059.35 L580.32,1062.08 L577.12,1064.80 L573.93,1067.51 L570.73,1070.19 L567.53,1072.86 L564.34,1075.51 L561.14,1078.15 L557.94,1080.77 L554.75,1083.37 L551.55,1085.96 L548.35,1088.53 L545.16,1091.09 L541.96,1093.63 L538.76,1096.15 L535.57,1098.66 L532.37,1101.16 L529.17,1103.64 L525.98,1106.10 L522.78,1108.55 L519.58,1110.99 L516.38,1113.41 L513.19,1115.82 L509.99,1118.22 L506.79,1120.60 L503.60,1122.96 L500.40,1125.32 L497.20,1127.66 L494.00,1129.98 L490.81,1132.30 L487.61,1134.60 L484.41,1136.89 L481.21,1139.16 L478.02,1141.43 L474.82,1143.68 L471.62,1145.92 L468.42,1148.15 L465.23,1150.36 L462.03,1152.57 L458.83,1154.76 L455.63,1156.94 L452.43,1159.11 L449.24,1161.27 L446.04,1163.42 L442.84,1165.56 L439.64,1167.69 L436.44,1169.81 L433.24,1171.91 L430.04,1174.01 L426.85,1176.10 L423.65,1178.18 L420.45,1180.25 L417.25,1182.30 L414.05,1184.35 L410.85,1186.39 L407.65,1188.43 L404.45,1190.45 L401.25,1192.46 L398.05,1194.47 L394.85,1196.47 L391.65,1198.46 L388.45,1200.44 L385.25,1202.41 L382.05,1204.38 L378.85,1206.34 L375.65,1208.29 L372.45,1210.24 L369.25,1212.17 L366.05,1214.10 L362.85,1216.03 L359.65,1217.95 L356.45,1219.86 L353.25,1221.76 L350.04,1223.66 L346.84,1225.55 L343.64,1227.44 L340.44,1229.32 L337.24,1231.20 L334.04,1233.07 L330.83,1234.93 L327.63,1236.79 L324.43,1238.65 L321.23,1240.50 L318.02,1242.35 L314.82,1244.19 L311.62,1246.03 L308.42,1247.86 L305.21,1249.69 L302.01,1251.52 L298.81,1253.34 L295.60,1255.16 L292.40,1256.97 L289.20,1258.79 L285.99,1260.60 L282.79,1262.41 L279.58,1264.21 L276.38,1266.01 L273.17,1267.81 L269.97,1269.61 L266.77,1271.41 L263.56,1273.20 L260.36,1274.99 L257.15,1276.78 L253.94,1278.57 L250.74,1280.36 L247.53,1282.15 L244.33,1283.93 L241.12,1285.72 L237.92,1287.50 L234.71,1289.29 L231.50,1291.07 L228.30,1292.86 L225.09,1294.64Z" fill="#0000ff" shape-rendering="crispEdges" clip-path="url(#fr)"/>
<g id="tick-labels">
<text filter="url(#na)" transform="translate(188.3,88) rotate(0) scale(1,1.05)" font-size="54" font-weight="bold" fill="#ff0000" text-anchor="end">45</text>
<text filter="url(#na)" transform="translate(188.3,223.263) rotate(0) scale(1,1.05)" font-size="54" font-weight="bold" fill="#ff0000" text-anchor="end">40</text>
<text filter="url(#na)" transform="translate(188.3,358.526) rotate(0) scale(1,1.05)" font-size="54" font-weight="bold" fill="#ff0000" text-anchor="end">35</text>
<text filter="url(#na)" transform="translate(188.3,493.789) rotate(0) scale(1,1.05)" font-size="54" font-weight="bold" fill="#ff0000" text-anchor="end">30</text>
<text filter="url(#na)" transform="translate(188.3,629.053) rotate(0) scale(1,1.05)" font-size="54" font-weight="bold" fill="#ff0000" text-anchor="end">25</text>
<text filter="url(#na)" transform="translate(188.3,764.316) rotate(0) scale(1,1.05)" font-size="54" font-weight="bold" fill="#ff0000" text-anchor="end">20</text>
<text filter="url(#na)" transform="translate(188.3,899.579) rotate(0) scale(1,1.05)" font-size="54" font-weight="bold" fill="#ff0000" text-anchor="end">15</text>
<text filter="url(#na)" transform="translate(188.3,1034.84) rotate(0) scale(1,1.05)" font-size="54" font-weight="bold" fill="#ff0000" text-anchor="end">10</text>
<text filter="url(#na)" transform="translate(188.3,1170.11) rotate(0) scale(1,1.05)" font-size="54" font-weight="bold" fill="#ff0000" text-anchor="end">5</text>
<text filter="url(#na)" transform="translate(188.3,1305.37) rotate(0) scale(1,1.05)" font-size="54" font-weight="bold" fill="#ff0000" text-anchor="end">0</text>
<text filter="url(#na)" transform="translate(1867,87.7) rotate(0) scale(1,1.05)" font-size="54" font-weight="bold" fill="#0000ff" text-anchor="start">1.0</text>
<text filter="url(#na)" transform="translate(1867,216.2) rotate(0) scale(1,1.05)" font-size="54" font-weight="bold" fill="#0000ff" text-anchor="start">0.9</text>
<text filter="url(#na)" transform="translate(1867,344.7) rotate(0) scale(1,1.05)" font-size="54" font-weight="bold" fill="#0000ff" text-anchor="start">0.8</text>
<text filter="url(#na)" transform="translate(1867,473.2) rotate(0) scale(1,1.05)" font-size="54" font-weight="bold" fill="#0000ff" text-anchor="start">0.7</text>
<text filter="url(#na)" transform="translate(1867,601.7) rotate(0) scale(1,1.05)" font-size="54" font-weight="bold" fill="#0000ff" text-anchor="start">0.6</text>
<text filter="url(#na)" transform="translate(1867,730.2) rotate(0) scale(1,1.05)" font-size="54" font-weight="bold" fill="#0000ff" text-anchor="start">0.5</text>
<text filter="url(#na)" transform="translate(1867,858.7) rotate(0) scale(1,1.05)" font-size="54" font-weight="bold" fill="#0000ff" text-anchor="start">0.4</text>
<text filter="url(#na)" transform="translate(1867,987.2) rotate(0) scale(1,1.05)" font-size="54" font-weight="bold" fill="#0000ff" text-anchor="start">0.3</text>
<text filter="url(#na)" transform="translate(1867,1115.7) rotate(0) scale(1,1.05)" font-size="54" font-weight="bold" fill="#0000ff" text-anchor="start">0.2</text>
<text filter="url(#na)" transform="translate(1867,1244.2) rotate(0) scale(1,1.05)" font-size="54" font-weight="bold" fill="#0000ff" text-anchor="start">0.1</text>
<text filter="url(#na)" transform="translate(1867,1372.7) rotate(0) scale(1,1.05)" font-size="54" font-weight="bold" fill="#0000ff" text-anchor="start">0.0</text>
<text filter="url(#na)" transform="translate(231.6,1435.5) rotate(0) scale(1,1.04)" font-size="48" font-weight="bold" fill="#000000" text-anchor="middle">1050</text>
<text filter="url(#na)" transform="translate(630.1,1435.5) rotate(0) scale(1,1.04)" font-size="48" font-weight="bold" fill="#000000" text-anchor="middle">1100</text>
<text filter="url(#na)" transform="translate(1028.6,1435.5) rotate(0) scale(1,1.04)" font-size="48" font-weight="bold" fill="#000000" text-anchor="middle">1150</text>
<text filter="url(#na)" transform="translate(1427.1,1435.5) rotate(0) scale(1,1.04)" font-size="48" font-weight="bold" fill="#000000" text-anchor="middle">1200</text>
<text filter="url(#na)" transform="translate(1825.6,1435.5) rotate(0) scale(1,1.04)" font-size="48" font-weight="bold" fill="#000000" text-anchor="middle">1250</text>
</g>
<g id="titles">
<text filter="url(#na)" transform="translate(1028.3,1516) rotate(0) scale(1,1.03)" font-size="66.67" font-weight="bold" fill="#000000" text-anchor="middle">Temperature (K)</text>
<text filter="url(#na)" transform="translate(76,687.5) rotate(-90) scale(1,1.03)" font-size="66.67" font-weight="bold" fill="#ff0000" text-anchor="middle">Heat Load (kJ/s)</text>
<text filter="url(#na)" transform="translate(2019.8,713) rotate(-90) scale(1,1.03)" font-size="66.67" font-weight="bold" fill="#0000ff" text-anchor="middle">nC<tspan font-size="45.34" dy="18.54" dx="0">2</tspan><tspan dy="-18.54" dx="0">H</tspan><tspan font-size="45.34" dy="18.54" dx="0">4</tspan><tspan dy="-18.54" dx="0"> (mol)</tspan></text>
</g>
<g id="annotations">
<text filter="url(#na)" transform="translate(888.1,659.4) rotate(-50.1) scale(1,1.03)" font-size="66.67" font-weight="normal" fill="#0000ff" text-anchor="start">Ethylene yield</text>
<text filter="url(#na)" transform="translate(1175.3,691.3) rotate(-50.2) scale(1,1.03)" font-size="66.67" font-weight="normal" fill="#ff0000" text-anchor="start">Heat Load</text>
<text filter="url(#na)" transform="translate(1291.2,1174.1) rotate(0) scale(1,1.03)" font-size="66.67" font-weight="normal" fill="#000000" text-anchor="start">nC<tspan font-size="45.34" dy="17.28" dx="0">2</tspan><tspan dy="-17.28" dx="0">H</tspan><tspan font-size="45.34" dy="17.28" dx="0">6</tspan><tspan font-size="45.34" dx="7.1"> (i)</tspan><tspan dy="-17.28" dx="-1.4"> =</tspan><tspan dx="1.5"> 1 mol</tspan></text>
<text filter="url(#na)" transform="translate(1290.1,1270.5) rotate(0) scale(1,1.03)" font-size="66.67" font-weight="normal" fill="#000000" text-anchor="start">L = 4 m</text>
</g>
<g id="glyph-trim" shape-rendering="crispEdges">
<rect x="129.9" y="892.9" width="10.9" height="8.2" fill="#ffffff"/>
<rect x="148.3" y="892.9" width="10.2" height="8.2" fill="#ffffff"/>
<rect x="129.9" y="1028.2" width="10.9" height="8.1" fill="#ffffff"/>
<rect x="148.3" y="1028.2" width="10.2" height="8.1" fill="#ffffff"/>
<rect x="1868.6" y="81" width="11" height="8.2" fill="#ffffff"/>
<rect x="1887" y="81" width="10.2" height="8.2" fill="#ffffff"/>
<rect x="1913.7" y="1237.5" width="10.9" height="8.2" fill="#ffffff"/>
<rect x="1932.1" y="1237.5" width="10.2" height="8.2" fill="#ffffff"/>
<rect x="179.7" y="1429.6" width="9.7" height="7.4" fill="#ffffff"/>
<rect x="196" y="1429.6" width="9.1" height="7.4" fill="#ffffff"/>
<rect x="578.2" y="1429.6" width="9.7" height="7.4" fill="#ffffff"/>
<rect x="594.5" y="1429.6" width="9.1" height="7.4" fill="#ffffff"/>
<rect x="604.9" y="1429.6" width="9.7" height="7.4" fill="#ffffff"/>
<rect x="621.2" y="1429.6" width="9.1" height="7.4" fill="#ffffff"/>
<rect x="976.7" y="1429.6" width="9.7" height="7.4" fill="#ffffff"/>
<rect x="993" y="1429.6" width="9.1" height="7.4" fill="#ffffff"/>
<rect x="1003.4" y="1429.6" width="9.7" height="7.4" fill="#ffffff"/>
<rect x="1019.7" y="1429.6" width="9.1" height="7.4" fill="#ffffff"/>
<rect x="1375.2" y="1429.6" width="9.7" height="7.4" fill="#ffffff"/>
<rect x="1391.5" y="1429.6" width="9.1" height="7.4" fill="#ffffff"/>
<rect x="1773.7" y="1429.6" width="9.7" height="7.4" fill="#ffffff"/>
<rect x="1790" y="1429.6" width="9.1" height="7.4" fill="#ffffff"/>
<rect x="1613" y="1166" width="14.7" height="9.6" fill="#ffffff"/>
<rect x="1633.7" y="1166" width="14.6" height="9.6" fill="#ffffff"/>
<rect transform="translate(76,687.5) rotate(-90) scale(1,1.03)" x="153.88" y="-47.34" width="11.60" height="9.33" fill="#ffffff"/>
</g>
</svg>
</body>
</html>
